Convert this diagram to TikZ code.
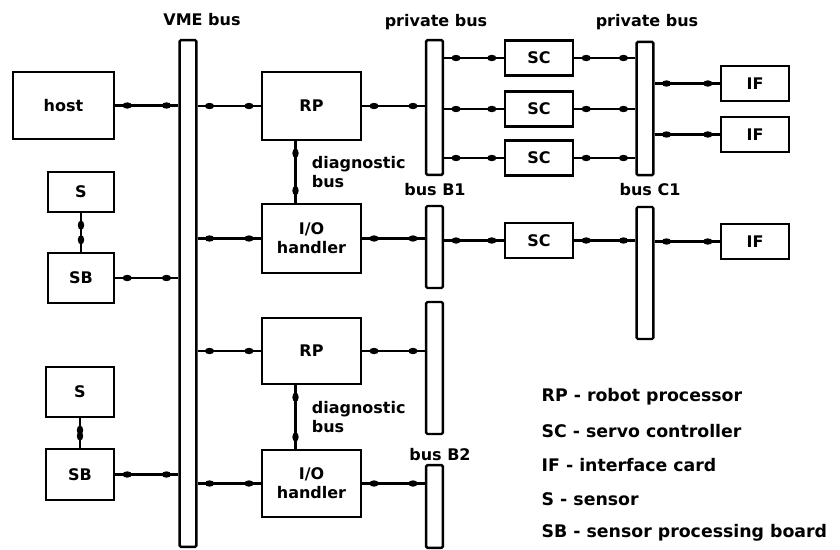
\documentclass[tikz,border=0pt]{standalone}
\usepackage{fontspec}
\setmainfont{DejaVu Sans}
\usetikzlibrary{positioning, calc, decorations.markings}

\begin{document}
\begin{tikzpicture}[x=0.75pt, y=-0.75pt, font=\fontsize{12}{14}\selectfont\bfseries,
  unit/.style={rectangle, draw, line width=1.8pt, inner sep=0pt, minimum width=51pt, minimum height=26pt},
  board/.style={unit, minimum width=74pt, minimum height=51pt, align=center},
  bar/.style={rectangle, draw, line width=1.8pt, inner sep=0pt, minimum width=12.5pt, rounded corners=1pt},
  key/.style={anchor=west, font=\fontsize{13}{15}\selectfont\bfseries},
  link/.style={line width=1.9pt, postaction={decorate}, decoration={markings,
    mark=at position 9pt with {\fill (0,0) ellipse (3.5pt and 2.4pt);},
    mark=at position -9pt with {\fill (0,0) ellipse (3.5pt and 2.4pt);}}}]
\useasboundingbox (0,0) rectangle (840,550);

% buses
\node (vme) [bar, minimum height=380pt] at (188,293.5) {};
\node (pba) [bar, minimum height=101pt] at (434.5,107.5) {};
\node (pbb) [bar, minimum height=100pt] at (645,108.5) {};
\node (busba) [bar, minimum height=61.5pt] at (434.5,247) {};
\node (busca) [bar, minimum height=99pt] at (645,273) {};
\node (pbc) [bar, minimum height=99pt] at (434.5,368) {};
\node (busbb) [bar, minimum height=62pt] at (434.5,506.5) {};

\node (vmelabel) at (202,20) {VME bus};
\node (pbalabel) at (436,22) {private bus};
\node (pbblabel) at (647,22) {private bus};
\node (busbalabel) at (435,190) {bus B1};
\node (buscalabel) at (650,190) {bus C1};
\node (busbblabel) at (440,455) {bus B2};

% boards
\node (host) [board, minimum width=75.75pt, minimum height=50pt] at (63.5,105.5) {host};
\node (rpa) [board] at (311.5,106) {RP};
\node (ioa) [board, minimum height=52pt] at (311.5,238.5) {I/O\\handler};
\node (rpb) [board, minimum height=49.5pt] at (311.5,351) {RP};
\node (iob) [board, minimum height=50pt] at (311.5,483.5) {I/O\\handler};
\node (sa) [unit, minimum width=49.5pt, minimum height=30pt] at (81,192) {S};
\node (sba) [unit, minimum width=49.5pt, minimum height=37.5pt] at (81,278) {SB};
\node (sb) [unit, minimum height=37.5pt] at (80,392) {S};
\node (sbb) [unit, minimum height=38pt] at (80,474.5) {SB};
\node (sca) [unit] at (539,58) {SC};
\node (scb) [unit] at (539,109) {SC};
\node (scc) [unit] at (539,158) {SC};
\node (scd) [unit] at (539,240.5) {SC};
\node (ifa) [unit] at (755,83.5) {IF};
\node (ifb) [unit] at (755,134.5) {IF};
\node (ifc) [unit] at (755,241.5) {IF};

% connections
\draw [link] (host.east) -- (host.east -| vme.west);
\draw [link] (sba.east) -- (sba.east -| vme.west);
\draw [link] (sbb.east) -- (sbb.east -| vme.west);
\draw [link] (sa.south) -- (sba.north);
\draw [link] (sb.south) -- (sbb.north);
\draw [link] (vme.east |- rpa.west) -- (rpa.west);
\draw [link] (vme.east |- ioa.west) -- (ioa.west);
\draw [link] (vme.east |- rpb.west) -- (rpb.west);
\draw [link] (vme.east |- iob.west) -- (iob.west);
\draw [link] ([xshift=-12pt]rpa.south) -- node[right=8pt, align=left] {diagnostic\\bus} ([xshift=-12pt]ioa.north);
\draw [link] ([xshift=-12pt]rpb.south) -- node[right=8pt, align=left] {diagnostic\\bus} ([xshift=-12pt]iob.north);
\draw [link] (rpa.east) -- (rpa.east -| pba.west);
\draw [link] (ioa.east) -- (ioa.east -| busba.west);
\draw [link] (rpb.east) -- (rpb.east -| pbc.west);
\draw [link] (iob.east) -- (iob.east -| busbb.west);
\draw [link] (pba.east |- sca.west) -- (sca.west);
\draw [link] (pba.east |- scb.west) -- (scb.west);
\draw [link] (pba.east |- scc.west) -- (scc.west);
\draw [link] (busba.east |- scd.west) -- (scd.west);
\draw [link] (sca.east) -- (sca.east -| pbb.west);
\draw [link] (scb.east) -- (scb.east -| pbb.west);
\draw [link] (scc.east) -- (scc.east -| pbb.west);
\draw [link] (scd.east) -- (scd.east -| busca.west);
\draw [link] (pbb.east |- ifa.west) -- (ifa.west);
\draw [link] (pbb.east |- ifb.west) -- (ifb.west);
\draw [link] (busca.east |- ifc.west) -- (ifc.west);

% legend
\node (keyrp) [key] at (537,397) {RP - robot processor};
\node (keysc) [key] at (537,431) {SC - servo controller};
\node (keyif) [key] at (537,465) {IF - interface card};
\node (keys) [key] at (537,499) {S - sensor};
\node (keysb) [key] at (537,533) {SB - sensor processing board};
\end{tikzpicture}
\end{document}
